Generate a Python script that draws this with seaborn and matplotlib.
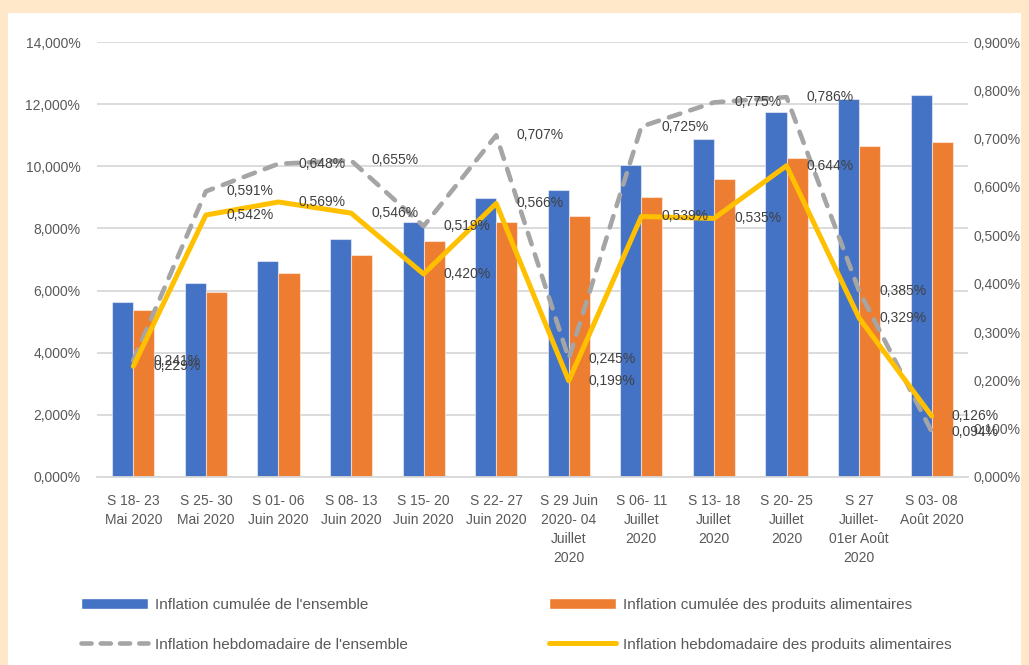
import numpy as np
import pandas as pd
import matplotlib
matplotlib.use("Agg")
import matplotlib.pyplot as plt
from matplotlib.patches import Patch, Rectangle
from matplotlib.lines import Line2D
from matplotlib.ticker import FuncFormatter, MultipleLocator
import seaborn as sns

# --- data ---
weeks = [
    "S 18- 23\nMai 2020", "S 25- 30\nMai 2020", "S 01- 06\nJuin 2020",
    "S 08- 13\nJuin 2020", "S 15- 20\nJuin 2020", "S 22- 27\nJuin 2020",
    "S 29 Juin\n2020- 04\nJuillet\n2020", "S 06- 11\nJuillet\n2020",
    "S 13- 18\nJuillet\n2020", "S 20- 25\nJuillet\n2020",
    "S 27\nJuillet-\n01er Août\n2020", "S 03- 08\nAoût 2020",
]
cum_total = [5.63, 6.24, 6.95, 7.66, 8.21, 8.98, 9.24, 10.04, 10.88, 11.75, 12.17, 12.29]
cum_food = [5.37, 5.95, 6.57, 7.15, 7.60, 8.21, 8.40, 9.01, 9.59, 10.27, 10.65, 10.78]
weekly_total = [0.241, 0.591, 0.648, 0.655, 0.519, 0.707, 0.245, 0.725, 0.775, 0.786, 0.385, 0.094]
weekly_food = [0.229, 0.542, 0.569, 0.546, 0.420, 0.566, 0.199, 0.539, 0.535, 0.644, 0.329, 0.126]

lab_total = "Inflation cumulée de l'ensemble"
lab_food = "Inflation cumulée des produits alimentaires"
lab_wtotal = "Inflation hebdomadaire de l'ensemble"
lab_wfood = "Inflation hebdomadaire des produits alimentaires"

BLUE, ORANGE, GRAY, YELLOW = "#4472C4", "#ED7D31", "#A5A5A5", "#FFC000"
TXT = "#595959"

sns.set_theme(style="white")
plt.rcParams["font.family"] = ["Liberation Sans", "DejaVu Sans"]

df = pd.DataFrame({
    "week": weeks * 2,
    "value": cum_total + cum_food,
    "serie": [lab_total] * len(weeks) + [lab_food] * len(weeks),
})

fig = plt.figure(figsize=(10.29, 6.65), dpi=100, facecolor="#FFE8C9")
fig.patches.append(Rectangle((8 / 1029, 0), 1013 / 1029, 652 / 665,
                             transform=fig.transFigure, facecolor="white",
                             edgecolor="none", zorder=-10))
ax = fig.add_axes([97 / 1029, 1 - 477 / 665, 871 / 1029, 435 / 665])
ax.patch.set_alpha(0)

sns.barplot(data=df, x="week", y="value", hue="serie", order=weeks,
            palette=[BLUE, ORANGE], saturation=1, width=0.58,
            linewidth=0.8, edgecolor="#FFFFFF80", ax=ax, legend=False)
ax.set_xlim(-0.5, len(weeks) - 0.5)
ax.set_ylim(0, 14)
ax.yaxis.set_major_locator(MultipleLocator(2))
ax.yaxis.set_major_formatter(FuncFormatter(lambda v, p: f"{v:.3f}%".replace(".", ",")))
ax.grid(axis="y", color="#D9D9D9", linewidth=1.3)
ax.set_axisbelow(True)
ax.set_xlabel("")
ax.set_ylabel("")
for s in ["left", "right", "top"]:
    ax.spines[s].set_visible(False)
ax.spines["bottom"].set_color("#D9D9D9")
ax.spines["bottom"].set_linewidth(1.3)
ax.tick_params(axis="both", length=0, labelsize=10, labelcolor=TXT)
ax.tick_params(axis="y", pad=12)
ax.tick_params(axis="x", pad=12)
for t in ax.get_xticklabels():
    t.set_linespacing(1.45)
    t.set_verticalalignment("top")

ax2 = ax.twinx()
x = np.arange(len(weeks))
sns.lineplot(x=x, y=weekly_total, ax=ax2, color=GRAY, linewidth=3.3,
             dashes=False)
sns.lineplot(x=x, y=weekly_food, ax=ax2, color=YELLOW, linewidth=3.6)
gl = ax2.lines[0]
gl.set_dashes((2.6, 2.3))
gl.set_dash_capstyle("round")
ax2.set_ylim(0, 0.9)
ax2.yaxis.set_major_locator(MultipleLocator(0.1))
ax2.yaxis.set_major_formatter(FuncFormatter(lambda v, p: f"{v:.3f}%".replace(".", ",")))
ax2.tick_params(axis="y", length=0, labelsize=10, labelcolor=TXT, pad=4)
for s in ax2.spines.values():
    s.set_visible(False)

for i in range(len(weeks)):
    for v in (weekly_total[i], weekly_food[i]):
        ax2.annotate(f"{v:.3f}%".replace(".", ","), (x[i], v),
                     xytext=(14.5, 0), textcoords="offset points",
                     ha="left", va="center", fontsize=10, color="#404040")

h1 = [Patch(facecolor=BLUE, label=lab_total),
      Line2D([], [], color=GRAY, lw=3.3, dashes=(2.2, 2.0),
             dash_capstyle="round", label=lab_wtotal)]
h2 = [Patch(facecolor=ORANGE, label=lab_food),
      Line2D([], [], color=YELLOW, lw=3.6, solid_capstyle="round",
             label=lab_wfood)]
for handles, x0 in ((h1, 67), (h2, 535)):
    leg = fig.legend(handles=handles, loc="upper left",
                     bbox_to_anchor=(x0 / 1029, 1 - 584 / 665),
                     frameon=False, fontsize=11, handlelength=4.4,
                     handletextpad=0.45, labelspacing=1.7, labelcolor=TXT)

fig.savefig("out.png", dpi=100, facecolor=fig.get_facecolor())
